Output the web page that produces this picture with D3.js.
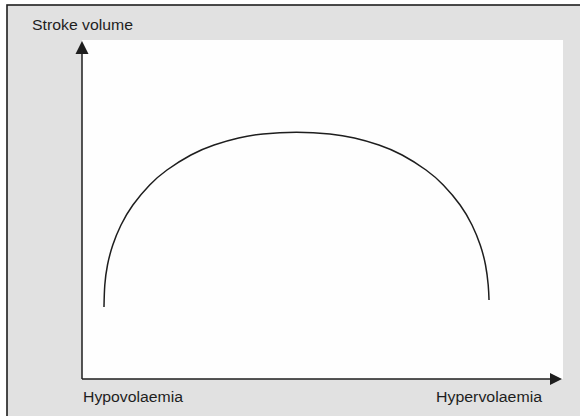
<!DOCTYPE html>
<html lang="en">
<head>
    <meta charset="UTF-8">
    <title>Stroke volume vs volaemia</title>
    <script src="https://d3js.org/d3.v7.js"></script>
    <style>
        body { margin: 0; background: #fff; }
        svg { display: block; }
        .label {
            font-family: "Liberation Sans", Arial, sans-serif;
            font-size: 14px;
            fill: #1e1e1e;
        }
    </style>
</head>
<body>
    <svg></svg>
    <script>
        // curve (x: volume status 0-100, y: stroke volume 0-100)
        const volumeStatus = [4.57, 4.74, 5.30, 6.40, 8.11, 10.58, 14.07, 17.67, 22.64, 27.46, 32.56, 37.63, 44.59,
                              51.54, 56.63, 61.73, 66.55, 71.52, 75.11, 78.61, 81.08, 82.79, 83.89, 84.45, 84.62];
        const strokeVolume = [21.24, 27.73, 33.63, 39.53, 45.43, 51.33, 57.23, 61.65, 66.08, 69.03, 71.09, 72.27, 72.77,
                              72.27, 71.09, 69.03, 66.08, 61.65, 57.23, 51.33, 45.43, 39.53, 33.63, 27.73, 23.30];
        const yLabel = "Stroke volume";
        const xLabels = ["Hypovolaemia", "Hypervolaemia"];

        const width = 580;
        const height = 416;
        const plot = { left: 82, right: 563, top: 40, bottom: 379 };

        const svg = d3.select("svg")
            .attr("width", width)
            .attr("height", height);

        // grey panel with the frame (runs off the right and bottom)
        svg.append("rect")
            .attr("x", 7)
            .attr("y", 5)
            .attr("width", 600)
            .attr("height", 440)
            .attr("fill", "#e1e1e1")
            .attr("stroke", "#1e1e1e")
            .attr("stroke-width", 1.6);

        const x = d3.scaleLinear().domain([0, 100]).range([plot.left, plot.right]);
        const y = d3.scaleLinear().domain([0, 100]).range([plot.bottom, plot.top]);

        svg.append("rect")
            .attr("x", x(0))
            .attr("y", y(100))
            .attr("width", x(100) - x(0))
            .attr("height", y(0) - y(100))
            .attr("fill", "#fefefe");

        // axes with arrow heads
        const axisColor = "#1e1e1e";
        svg.append("line")
            .attr("x1", x(0)).attr("y1", y(0))
            .attr("x2", x(0)).attr("y2", y(100) + 10)
            .attr("stroke", axisColor)
            .attr("stroke-width", 1.5);
        svg.append("line")
            .attr("x1", x(0)).attr("y1", y(0))
            .attr("x2", x(100) - 10).attr("y2", y(0))
            .attr("stroke", axisColor)
            .attr("stroke-width", 1.5);

        svg.append("path")
            .attr("d", `M${x(0)},${y(100) + 1} l-6.5,13 l13,0 Z`)
            .attr("fill", axisColor);
        svg.append("path")
            .attr("d", `M${x(100) - 1},${y(0)} l-12,-6 l0,12 Z`)
            .attr("fill", axisColor);

        // the curve
        const points = volumeStatus.map((v, i) => [v, strokeVolume[i]]);
        const line = d3.line()
            .x(d => x(d[0]))
            .y(d => y(d[1]))
            .curve(d3.curveNatural);

        svg.append("path")
            .attr("d", line(points))
            .attr("fill", "none")
            .attr("stroke", "#1e1e1e")
            .attr("stroke-width", 1.5);

        // labels
        svg.append("text")
            .attr("class", "label")
            .attr("x", 32)
            .attr("y", 30)
            .attr("textLength", 101)
            .attr("lengthAdjust", "spacingAndGlyphs")
            .text(yLabel);

        svg.append("text")
            .attr("class", "label")
            .attr("x", 83)
            .attr("y", 402)
            .attr("textLength", 100)
            .attr("lengthAdjust", "spacingAndGlyphs")
            .text(xLabels[0]);

        svg.append("text")
            .attr("class", "label")
            .attr("x", 436)
            .attr("y", 402)
            .attr("textLength", 106)
            .attr("lengthAdjust", "spacingAndGlyphs")
            .text(xLabels[1]);
    </script>
</body>
</html>
